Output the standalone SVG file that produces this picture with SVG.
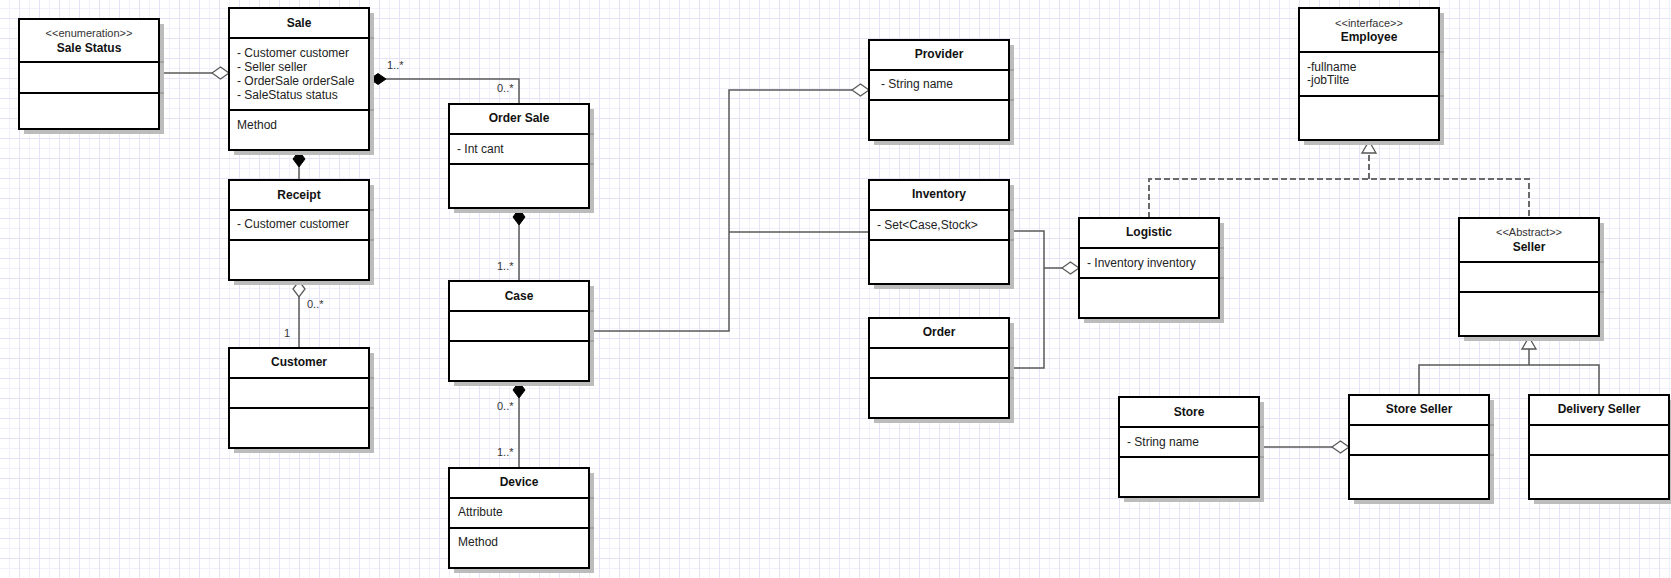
<svg xmlns="http://www.w3.org/2000/svg" width="1671" height="578" viewBox="0 0 1671 578">
<style>
.sh{fill:#bcbcbc}
.bx{fill:#fff;stroke:#000;stroke-width:2}
.cl{stroke:#000;stroke-width:2}
.ce{stroke:#8a8a8a;stroke-width:1}
.t{font-family:"Liberation Sans",Arial,sans-serif;font-size:12px;font-weight:bold;fill:#111;text-anchor:middle}
.st{font-family:"Liberation Sans",Arial,sans-serif;font-size:11px;fill:#333;text-anchor:middle}
.a{font-family:"Liberation Sans",Arial,sans-serif;font-size:12px;fill:#222}
.m{font-family:"Liberation Sans",Arial,sans-serif;font-size:11px;fill:#333}
.ln{fill:none;stroke:#5a5a5a;stroke-width:1.5}
.dl{fill:none;stroke:#6a6a6a;stroke-width:2;stroke-dasharray:6 3}
.hd{fill:#fff;stroke:#5a5a5a;stroke-width:1.3}
.fd{fill:#000;stroke:#000;stroke-width:1}
.tri{fill:#fff;stroke:#555;stroke-width:1.3}
</style>
<defs>
<pattern id="grid" patternUnits="userSpaceOnUse" x="-1" y="-2" width="20" height="20">
<rect width="20" height="20" fill="#fff"/>
<rect x="10" y="0" width="1" height="20" fill="#f2f0fb"/>
<rect x="0" y="10" width="20" height="1" fill="#f2f0fb"/>
<rect x="0" y="0" width="1" height="20" fill="#e6e3f6"/>
<rect x="0" y="0" width="20" height="1" fill="#e6e3f6"/>
</pattern>
</defs>
<rect width="1671" height="578" fill="url(#grid)"/>

<g id="connectors">
<!-- SaleStatus - Sale -->
<path class="ln" d="M160 73H212"/>
<path class="hd" d="M212 73L220.5 67L229 73L220.5 79Z"/>
<!-- Sale - OrderSale -->
<path class="ln" d="M386 79H519V104"/>
<path class="fd" d="M370 79L378 73.5L386 79L378 84.5Z"/>
<!-- Sale - Receipt -->
<path class="ln" d="M299 167V180"/>
<path class="fd" d="M299 151L305 159L299 167L293 159Z"/>
<!-- Receipt - Customer -->
<path class="ln" d="M299 297V348"/>
<path class="hd" d="M299 281L305 289L299 297L293 289Z"/>
<!-- OrderSale - Case -->
<path class="ln" d="M519 225V281"/>
<path class="fd" d="M519 209L525 217L519 225L513 217Z"/>
<!-- Case - Device -->
<path class="ln" d="M519 398V468"/>
<path class="fd" d="M519 382L525 390L519 398L513 390Z"/>
<!-- Case - Provider / Inventory -->
<path class="ln" d="M590 331H729V90H852"/>
<path class="hd" d="M852 90L860.5 84L869 90L860.5 96Z"/>
<path class="ln" d="M729 232H869"/>
<!-- Inventory / Order - Logistic -->
<path class="ln" d="M1010 231H1044V368H1010"/>
<path class="ln" d="M1044 268H1062"/>
<path class="hd" d="M1062 268L1070.5 262L1079 268L1070.5 274Z"/>
<!-- Realization to Employee -->
<path class="dl" d="M1149 218V179H1529V218"/>
<path class="dl" d="M1369 179V153"/>
<path class="tri" d="M1369 141L1376 153H1362Z"/>
<!-- Generalization to Seller -->
<path class="ln" d="M1529 349V365"/>
<path class="ln" d="M1419 395V365H1599V395"/>
<path class="tri" d="M1529 337L1536 349H1522Z"/>
<!-- Store - StoreSeller -->
<path class="ln" d="M1260 447H1332"/>
<path class="hd" d="M1332 447L1340.5 441L1349 447L1340.5 453Z"/>
<!-- multiplicities -->
<text class="m" x="387" y="69">1..*</text>
<text class="m" x="497" y="92">0..*</text>
<text class="m" x="307" y="308">0..*</text>
<text class="m" x="284" y="337">1</text>
<text class="m" x="497" y="270">1..*</text>
<text class="m" x="497" y="410">0..*</text>
<text class="m" x="497" y="456">1..*</text>
</g>

<g id="SaleStatus">
<rect class="sh" x="24" y="24" width="140" height="110"/>
<rect class="bx" x="19" y="19" width="140" height="110"/>
<path class="cl" d="M19 62H159M19 93H159"/>
<path class="ce" d="M160 62H164M160 93H164"/>
<text class="st" x="89" y="37">&lt;&lt;enumeration&gt;&gt;</text>
<text class="t" x="89" y="52">Sale Status</text>
</g>

<g id="Sale">
<rect class="sh" x="234" y="13" width="140" height="142"/>
<rect class="bx" x="229" y="8" width="140" height="142"/>
<path class="cl" d="M229 38H369M229 110H369"/>
<path class="ce" d="M370 38H374M370 110H374"/>
<text class="t" x="299" y="27">Sale</text>
<text class="a" x="237" y="57">- Customer customer</text>
<text class="a" x="237" y="71">- Seller seller</text>
<text class="a" x="237" y="85">- OrderSale orderSale</text>
<text class="a" x="237" y="99">- SaleStatus status</text>
<text class="a" x="237" y="129">Method</text>
</g>

<g id="Receipt">
<rect class="sh" x="234" y="185" width="140" height="100"/>
<rect class="bx" x="229" y="180" width="140" height="100"/>
<path class="cl" d="M229 210H369M229 240H369"/>
<path class="ce" d="M370 210H374M370 240H374"/>
<text class="t" x="299" y="199">Receipt</text>
<text class="a" x="237" y="228">- Customer customer</text>
</g>

<g id="Customer">
<rect class="sh" x="234" y="353" width="140" height="100"/>
<rect class="bx" x="229" y="348" width="140" height="100"/>
<path class="cl" d="M229 378H369M229 408H369"/>
<path class="ce" d="M370 378H374M370 408H374"/>
<text class="t" x="299" y="366">Customer</text>
</g>

<g id="OrderSale">
<rect class="sh" x="454" y="109" width="140" height="104"/>
<rect class="bx" x="449" y="104" width="140" height="104"/>
<path class="cl" d="M449 134H589M449 164H589"/>
<path class="ce" d="M590 134H594M590 164H594"/>
<text class="t" x="519" y="122">Order Sale</text>
<text class="a" x="457" y="153">- Int cant</text>
</g>

<g id="Case">
<rect class="sh" x="454" y="286" width="140" height="100"/>
<rect class="bx" x="449" y="281" width="140" height="100"/>
<path class="cl" d="M449 311H589M449 341H589"/>
<path class="ce" d="M590 311H594M590 341H594"/>
<text class="t" x="519" y="300">Case</text>
</g>

<g id="Device">
<rect class="sh" x="454" y="473" width="140" height="100"/>
<rect class="bx" x="449" y="468" width="140" height="100"/>
<path class="cl" d="M449 498H589M449 528H589"/>
<path class="ce" d="M590 498H594M590 528H594"/>
<text class="t" x="519" y="486">Device</text>
<text class="a" x="458" y="516">Attribute</text>
<text class="a" x="458" y="546">Method</text>
</g>

<g id="Provider">
<rect class="sh" x="874" y="45" width="140" height="100"/>
<rect class="bx" x="869" y="40" width="140" height="100"/>
<path class="cl" d="M869 70H1009M869 100H1009"/>
<path class="ce" d="M1010 70H1014M1010 100H1014"/>
<text class="t" x="939" y="58">Provider</text>
<text class="a" x="881" y="88">- String name</text>
</g>

<g id="Inventory">
<rect class="sh" x="874" y="185" width="140" height="104"/>
<rect class="bx" x="869" y="180" width="140" height="104"/>
<path class="cl" d="M869 210H1009M869 240H1009"/>
<path class="ce" d="M1010 210H1014M1010 240H1014"/>
<text class="t" x="939" y="198">Inventory</text>
<text class="a" x="877" y="229">- Set&lt;Case,Stock&gt;</text>
</g>

<g id="Order">
<rect class="sh" x="874" y="323" width="140" height="100"/>
<rect class="bx" x="869" y="318" width="140" height="100"/>
<path class="cl" d="M869 348H1009M869 378H1009"/>
<path class="ce" d="M1010 348H1014M1010 378H1014"/>
<text class="t" x="939" y="336">Order</text>
</g>

<g id="Logistic">
<rect class="sh" x="1084" y="223" width="140" height="100"/>
<rect class="bx" x="1079" y="218" width="140" height="100"/>
<path class="cl" d="M1079 248H1219M1079 278H1219"/>
<path class="ce" d="M1220 248H1224M1220 278H1224"/>
<text class="t" x="1149" y="236">Logistic</text>
<text class="a" x="1087" y="267">- Inventory inventory</text>
</g>

<g id="Employee">
<rect class="sh" x="1304" y="13" width="140" height="132"/>
<rect class="bx" x="1299" y="8" width="140" height="132"/>
<path class="cl" d="M1299 52H1439M1299 96H1439"/>
<path class="ce" d="M1440 52H1444M1440 96H1444"/>
<text class="st" x="1369" y="27">&lt;&lt;interface&gt;&gt;</text>
<text class="t" x="1369" y="41">Employee</text>
<text class="a" x="1307" y="71">-fullname</text>
<text class="a" x="1307" y="84">-jobTilte</text>
</g>

<g id="Seller">
<rect class="sh" x="1464" y="223" width="140" height="118"/>
<rect class="bx" x="1459" y="218" width="140" height="118"/>
<path class="cl" d="M1459 262H1599M1459 292H1599"/>
<path class="ce" d="M1600 262H1604M1600 292H1604"/>
<text class="st" x="1529" y="236">&lt;&lt;Abstract&gt;&gt;</text>
<text class="t" x="1529" y="251">Seller</text>
</g>

<g id="Store">
<rect class="sh" x="1124" y="402" width="140" height="100"/>
<rect class="bx" x="1119" y="397" width="140" height="100"/>
<path class="cl" d="M1119 427H1259M1119 457H1259"/>
<path class="ce" d="M1260 427H1264M1260 457H1264"/>
<text class="t" x="1189" y="416">Store</text>
<text class="a" x="1127" y="446">- String name</text>
</g>

<g id="StoreSeller">
<rect class="sh" x="1354" y="400" width="140" height="104"/>
<rect class="bx" x="1349" y="395" width="140" height="104"/>
<path class="cl" d="M1349 425H1489M1349 455H1489"/>
<path class="ce" d="M1490 425H1494M1490 455H1494"/>
<text class="t" x="1419" y="413">Store Seller</text>
</g>

<g id="DeliverySeller">
<rect class="sh" x="1534" y="400" width="140" height="104"/>
<rect class="bx" x="1529" y="395" width="140" height="104"/>
<path class="cl" d="M1529 425H1669M1529 455H1669"/>
<text class="t" x="1599" y="413">Delivery Seller</text>
</g>
</svg>
